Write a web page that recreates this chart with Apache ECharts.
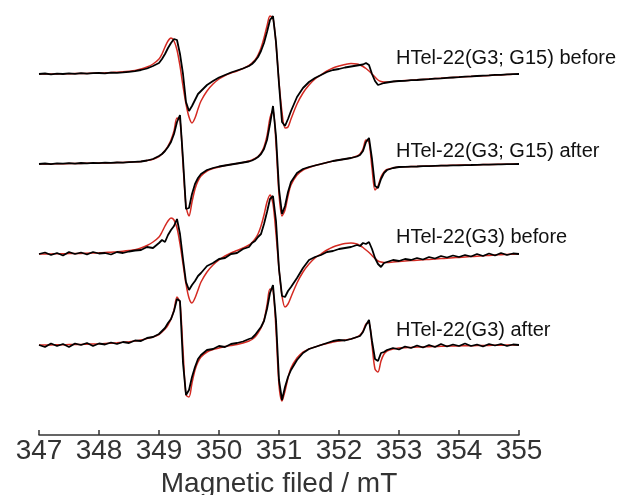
<!DOCTYPE html>
<html><head><meta charset="utf-8">
<script src="https://cdn.jsdelivr.net/npm/echarts@6/dist/echarts.min.js"></script>
<style>html,body{margin:0;padding:0;background:#fff}#c{width:617px;height:495px}</style>
</head><body><div id="c"></div>
<script>
// Magnetic field (mT)
const fields = [347.0,347.1,347.2,347.3,347.4,347.5,347.6,347.7,347.8,347.9,348.0,348.1,348.2,348.3,348.4,348.5,348.6,
348.7,348.8,348.9,349.0,
349.05,349.1,349.15,349.2,349.25,349.3,349.35,349.4,349.45,349.5,349.55,349.6,349.65,349.7,
349.8,349.9,350.0,350.1,350.2,350.3,350.4,350.5,
350.55,350.6,350.65,350.7,350.75,350.8,350.85,350.9,350.95,351.0,351.05,351.1,351.15,351.2,
351.3,351.4,351.5,351.6,351.7,351.8,351.9,352.0,352.1,352.2,352.3,
352.35,352.4,352.45,352.5,352.55,352.6,352.65,352.7,352.75,352.8,
352.9,353.0,
353.1,353.2,353.3,353.4,353.5,353.6,353.7,353.8,353.9,354.0,354.1,354.2,354.3,354.4,354.5,354.6,354.7,354.8,354.9,355.0];

const tickLabels = ['347','348','349','350','351','352','353','354','355'];
const sampleNames = ['HTel-22(G3; G15) before','HTel-22(G3; G15) after','HTel-22(G3) before','HTel-22(G3) after'];
const offsets = [361, 271, 181, 90];

// experimental (black) intensities, arbitrary units
const exp1 = [0,0.5,-0.3,0.4,0,0.6,0.2,0.8,0.4,0.9,1,0.7,1.3,1.2,1.6,2.2,2.8,
4,5.5,8,11,
15,20,26,31,35,34,20,0,-28,-37,-32,-26,-20,-17,
-11,-7,-3.5,-1,1.5,3.5,5.5,8,
10,13,17,23,31,42,54,58,32,-10,-48,-52,-45,-37,
-23,-14,-8,-4,-1,2,4,5,6.5,7.5,8.5,
9,9.5,11,9,0,-7,-11,-10,-9,-8.5,
-7.5,-7,
-6.8,-6.2,-6,-5.5,-5.2,-4.6,-4.4,-3.8,-3.5,-3.2,-2.6,-2.4,-2,-1.6,-1.4,-0.8,-0.9,-0.3,-0.1,0];
const sim1 = [0,0,0,0.1,0.2,0.3,0.4,0.5,0.6,0.8,1,1.2,1.5,1.8,2.2,2.8,3.6,
5,7,10,15,
20,27,33,36,33,24,8,-12,-30,-43,-49,-44,-35,-27,
-17,-10,-5,-1.5,1,3,5.5,8.5,
11,14,19,26,36,48,58,56,30,-8,-38,-54,-53,-45,
-30,-19,-11,-5,-1,3,6,8,9.5,10.5,10,
9,7.5,5.5,3,0,-3,-6,-7.5,-8,-8,
-7.5,-7,
-6.6,-6.2,-5.8,-5.4,-5,-4.6,-4.2,-3.8,-3.4,-3,-2.7,-2.4,-2.1,-1.8,-1.5,-1.2,-0.9,-0.6,-0.3,0];

const exp2 = [0,0.5,-0.2,0.6,0.3,0.8,0.4,1,0.6,1.1,0.8,1.3,1.1,1.5,1.4,1.8,2.2,
2.5,3.5,5,8,
10,13,17,22,30,42,49,5,-45,-44,-30,-20,-14,-10,
-6,-4,-2.5,-1.5,-0.5,0.5,1.5,2.5,
3.5,5,7,10,15,24,40,58,28,-25,-50,-42,-28,-18,
-9,-5,-3,-1.5,0,1.5,3,4,5,6,7.5,
9,13,22,26,5,-22,-24,-15,-9,-6,
-4,-3,
-2.8,-2.6,-2.5,-2.2,-2.1,-1.9,-1.7,-1.6,-1.4,-1.3,-1.1,-1,-0.8,-0.7,-0.6,-0.4,-0.3,-0.2,-0.1,0];
const sim2 = [0,0,0.1,0.2,0.3,0.4,0.5,0.6,0.7,0.8,0.9,1,1.2,1.4,1.6,1.9,2.2,
2.6,3.4,4.8,7.5,
10,13.5,18,24,33,46,44,0,-42,-52,-38,-25,-17,-12,
-7,-4.5,-3,-1.5,-0.5,0.5,1.5,3,
4,5.5,7.5,11,17,28,46,54,20,-30,-52,-46,-32,-21,
-11,-6,-3.5,-1.5,0,1.5,3,4,5,6,8,
10,15,24,22,-4,-26,-22,-13,-8,-5.5,
-4,-3,
-2.8,-2.6,-2.4,-2.2,-2,-1.8,-1.6,-1.4,-1.3,-1.1,-1,-0.9,-0.8,-0.6,-0.5,-0.4,-0.3,-0.2,-0.1,0];

const exp3 = [0,1.5,-1,1,-1.5,2,0,1.5,-0.5,2,0.5,1,-0.5,2,1,2.5,3.5,
4,7,6,11,
14,12,19,24,28,35,20,-5,-28,-36,-31,-27,-22,-19,
-12,-9,-5,-4,0,1,5,7,
11,13,17,20,30,42,55,58,33,-15,-42,-43,-37,-33,
-24,-14,-6,-3,-1,2,3,5,6,7,9,
8,11,10,12,5,-4,-10,-13,-9,-8,
-6,-7,
-5,-6,-4,-5.5,-3,-4.5,-2,-3.5,-1.5,-3,-1,-2.5,0,-2,0.5,-1.5,1,-1,0.5,0];
const sim3 = [0,0,0.1,0.2,0.3,0.4,0.5,0.6,0.8,1,1.2,1.5,1.8,2.2,2.7,3.4,4.3,
6,8.5,12,17,
22,28,33,36,34,26,10,-10,-30,-44,-49,-44,-36,-28,
-18,-11,-6,-2,1,3.5,6,9,
11.5,15,20,28,39,52,59,50,20,-15,-42,-53,-50,-43,
-29,-18,-10,-4,0,4,7,9,10.5,11,10,
8.5,6.5,4,1.5,-1.5,-4.5,-7,-8,-8.5,-8.5,
-8,-7.5,
-7,-6.6,-6.2,-5.8,-5.4,-5,-4.6,-4.2,-3.8,-3.4,-3,-2.6,-2.2,-1.8,-1.4,-1,-0.7,-0.4,-0.2,0];

const exp4 = [0,-2,1.5,-1,1,-2,1.5,0,2,-1,1.5,0.5,2.5,1,3,2,4.5,
4,7,8,11,
14,17,22,26,34,46,44,-18,-50,-45,-32,-22,-14,-10,
-5,-4,-1,-2,1,2,3.5,6,
7,10,14,18,24,36,52,60,25,-35,-55,-42,-32,-25,
-15,-8,-4,-2,0,2,4,5,4.5,6,8,
9,13,20,25,4,-14,-16,-8,-7,-5,
-3,-4.5,
-1.5,-3,-0.5,-2.5,0,-2,1,-1.5,0.5,-1,1.5,-1,0.5,-1.5,1,-0.5,1,-1,0.5,0];
const sim4 = [0,0,0.1,0.2,0.3,0.4,0.5,0.6,0.8,1,1.2,1.5,1.8,2.2,2.7,3.3,4,
5,6.5,8,10.5,
13,16,20,26,35,48,42,-5,-50,-52,-38,-25,-17,-12,
-7,-4.5,-3,-1.5,-0.5,0.5,2,4,
5.5,8,12,17,25,40,56,55,15,-40,-56,-46,-33,-23,
-13,-7,-4,-2,0,1.5,3,4,5,6,8,
10,14,21,22,0,-24,-27,-16,-9,-6,
-4,-3,
-2.7,-2.4,-2.1,-1.9,-1.7,-1.5,-1.3,-1.1,-1,-0.9,-0.8,-0.7,-0.6,-0.5,-0.4,-0.3,-0.2,-0.1,-0.05,0];

const expSets = [exp1, exp2, exp3, exp4];
const simSets = [sim1, sim2, sim3, sim4];

const chart = echarts.init(document.getElementById('c'), null, {renderer: 'canvas'});
const toData = (vals, off) => fields.map((f, i) => [f, off + vals[i]]);

const series = [];
simSets.forEach((s, k) => series.push({
  type: 'line', data: toData(s, offsets[k]), showSymbol: false, smooth: 0.3,
  lineStyle: {color: '#d42a22', width: 1.5}, z: 2, silent: true
}));
expSets.forEach((s, k) => series.push({
  type: 'line', data: toData(s, offsets[k]), showSymbol: false,
  lineStyle: {color: '#000000', width: 1.8}, z: 3, silent: true
}));

const labelY = [58, 151, 237, 330];
chart.setOption({
  animation: false,
  backgroundColor: '#ffffff',
  grid: {left: 39, right: 98, top: 0, bottom: 60, containLabel: false, outerBoundsMode: 'none'},
  xAxis: {
    type: 'value', min: 347, max: 355, interval: 1,
    name: 'Magnetic filed / mT', nameLocation: 'middle', nameGap: 32,
    nameTextStyle: {fontFamily: 'Liberation Sans', fontSize: 28, color: '#333333'},
    axisLine: {show: true, lineStyle: {color: '#333333', width: 1.5}},
    axisTick: {show: true, inside: true, length: 5, lineStyle: {color: '#333333', width: 1.5}},
    axisLabel: {fontFamily: 'Liberation Sans', fontSize: 28, color: '#333333', margin: 2,
      formatter: v => tickLabels[Math.round(v - 347)] || ''},
    splitLine: {show: false}
  },
  yAxis: {type: 'value', min: 0, max: 435, show: false, splitLine: {show: false}},
  graphic: sampleNames.map((t, k) => ({
    type: 'text', x: 396, y: labelY[k],
    style: {text: t, fontFamily: 'Liberation Sans', fontSize: 20, fill: '#111111', verticalAlign: 'middle'}
  })),
  series: series
});
</script>
</body></html>
